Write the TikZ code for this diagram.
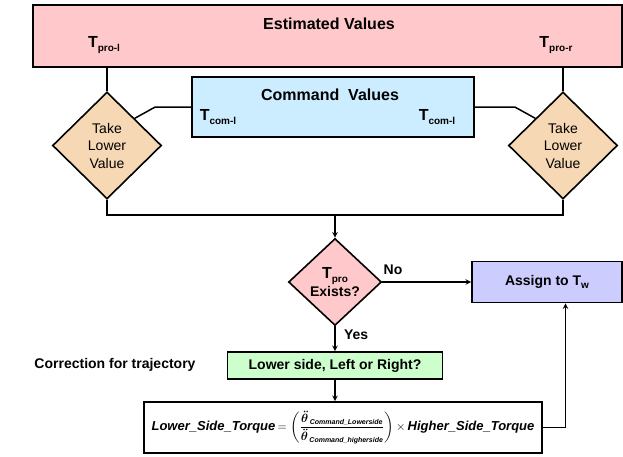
\documentclass[tikz,border=0pt]{standalone}
\usepackage{fontspec}
\setmainfont{Liberation Sans}
\usepackage{amsmath, amssymb}
\usetikzlibrary{arrows,shapes,calc}

\definecolor{rose}{RGB}{255,200,202}
\definecolor{bleu}{RGB}{204,236,255}
\definecolor{beige}{RGB}{247,216,180}
\definecolor{lavande}{RGB}{204,204,255}
\definecolor{vert}{RGB}{204,255,204}

\newcommand{\Tind}[1]{{\fontsize{16}{16}\selectfont\bfseries T}\raisebox{-4pt}{\fontsize{10}{10}\selectfont\bfseries #1}}
\newcommand{\gras}[1]{{\bfseries\itshape #1}}
\newcommand{\petit}[1]{\text{\fontsize{7}{7}\selectfont\bfseries\itshape #1}}

\begin{document}
\begin{tikzpicture}[x=1pt,y=-1pt]
\tikzstyle{bloc}=[rectangle,draw,line width=1.6pt,inner sep=0pt]
\tikzstyle{choix}=[diamond,draw,line width=1.6pt,inner sep=0pt,align=center]
\tikzstyle{titre}=[font=\fontsize{14}{17}\selectfont\bfseries]
\tikzstyle{grandtitre}=[font=\fontsize{16}{18}\selectfont\bfseries]
\tikzstyle{lien}=[line width=1.5pt]

\useasboundingbox (0,0) rectangle (623,456);

\node[bloc,fill=rose,minimum width=589pt,minimum height=62pt] (estim) at (327.5,36) {};
\node[grandtitre] (estimtitre) at (329,24) {Estimated Values};
\node (tprog) at (104,45) {\Tind{pro-l}};
\node (tprod) at (556,45) {\Tind{pro-r}};

\node[bloc,fill=bleu,minimum width=282pt,minimum height=60pt] (cmd) at (333,107) {};
\node[grandtitre] (cmdtitre) at (330,95) {Command~ Values};
\node (tcomg) at (218,117) {\Tind{com-l}};
\node (tcomd) at (437,117) {\Tind{com-l}};

\node[choix,fill=beige,minimum width=109pt,minimum height=107pt,
  font=\fontsize{14}{17.5}\selectfont] (gauche) at (107,145.5) {Take\\Lower\\Value};
\node[choix,fill=beige,minimum width=109pt,minimum height=107pt,
  font=\fontsize{14}{17.5}\selectfont] (droite) at (563,145.5) {Take\\Lower\\Value};

\node[choix,fill=rose,minimum width=93pt,minimum height=87pt,
  font=\fontsize{14}{17}\selectfont\bfseries] (existe) at (335,282) {\Tind{pro}\\[1pt]Exists?};
\node[bloc,fill=lavande,minimum width=150pt,minimum height=41pt,titre] (assign) at (547,282)
  {Assign to T\raisebox{-3pt}{\fontsize{10}{10}\selectfont w}};

\node[bloc,fill=vert,minimum width=215pt,minimum height=27pt,titre] (cote) at (335,365.5)
  {Lower side, Left or Right?};
\node[titre] (correction) at (115,365) {Correction for trajectory};

\node[bloc,fill=white,minimum width=398pt,minimum height=51pt,
  font=\fontsize{13}{15}\selectfont] (formule) at (343,427.5)
  {\gras{Lower\_Side\_Torque}\,$=\left(\dfrac{{\boldsymbol{\ddot{\theta}}}_{\,\petit{Command\_Lowerside}}}
  {{\boldsymbol{\ddot{\theta}}}_{\,\petit{Command\_higherside}}}\right)\times$\,\gras{Higher\_Side\_Torque}};

\tikzstyle{fleche}=[->,>=stealth,line width=1.5pt]
\draw[lien] (gauche.north) -- (gauche.north |- estim.south);
\draw[lien] (droite.north) -- (droite.north |- estim.south);
\draw[lien] (cmd.west) -- ++(-36,0) -- (gauche.north east);
\draw[lien] (cmd.east) -- ++(40,0) -- (droite.north west);
\coordinate (jonction) at (335,215);
\draw[lien] (gauche.south) |- (jonction) -| (droite.south);
\draw[fleche] (jonction) -- (existe.north);
\draw[fleche] (existe.east) -- node[pos=0.12,above=3pt,titre] (non) {No} (assign.west);
\draw[fleche] (existe.south) -- node[pos=0.35,right=5pt,titre] (oui) {Yes} (existe.south |- cote.north);
\draw[fleche] (cote.south) -- (cote.south |- formule.north);
\draw[fleche] (formule.east) -| (assign.-49);

\end{tikzpicture}
\end{document}
